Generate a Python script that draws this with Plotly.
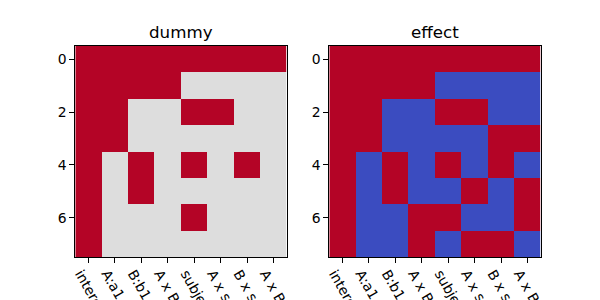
import plotly.graph_objects as go

labels = ["intercept", "A:a1", "B:b1", "A x B", "subject", "A x subject", "B x subject", "A x B x subject"]
rows = list(range(8))

dummy = [
    [1, 1, 1, 1, 1, 1, 1, 1],
    [1, 1, 1, 1, 0, 0, 0, 0],
    [1, 1, 0, 0, 1, 1, 0, 0],
    [1, 1, 0, 0, 0, 0, 0, 0],
    [1, 0, 1, 0, 1, 0, 1, 0],
    [1, 0, 1, 0, 0, 0, 0, 0],
    [1, 0, 0, 0, 1, 0, 0, 0],
    [1, 0, 0, 0, 0, 0, 0, 0],
]

effect = [
    [1, 1, 1, 1, 1, 1, 1, 1],
    [1, 1, 1, 1, -1, -1, -1, -1],
    [1, 1, -1, -1, 1, 1, -1, -1],
    [1, 1, -1, -1, -1, -1, 1, 1],
    [1, -1, 1, -1, 1, -1, 1, -1],
    [1, -1, 1, -1, -1, 1, -1, 1],
    [1, -1, -1, 1, 1, -1, -1, 1],
    [1, -1, -1, 1, -1, 1, 1, -1],
]

cscale = [[0, "#3b4cc0"], [0.5, "#dddddd"], [1, "#b40426"]]

fig = go.Figure()
cols = list(range(8))
fig.add_trace(go.Heatmap(z=dummy, x=cols, y=rows, colorscale=cscale, zmin=-1, zmax=1,
                         showscale=False, xaxis="x", yaxis="y", hoverinfo="skip"))
fig.add_trace(go.Heatmap(z=effect, x=cols, y=rows, colorscale=cscale, zmin=-1, zmax=1,
                         showscale=False, xaxis="x2", yaxis="y2", hoverinfo="skip"))

font = dict(family="DejaVu Sans", size=13.9, color="black")
axcommon = dict(showgrid=False, zeroline=False, showline=True, linecolor="black", linewidth=1,
                mirror=True, ticks="outside", ticklen=5, tickwidth=1, tickcolor="black",
                tickfont=font, automargin=False)
xextra = dict(ticklabelshift=-8, ticklabelstandoff=-3)
ydom = [1 - 257.3 / 300, 1 - 46 / 300]
fig.update_layout(
    width=600, height=300, margin=dict(l=0, r=0, t=0, b=0),
    paper_bgcolor="white", plot_bgcolor="white", showlegend=False,
    xaxis=dict(domain=[75.3 / 600, 286.7 / 600], range=[-0.5, 7.5], tickvals=cols, ticktext=labels,
               tickangle=60, anchor="y", **axcommon, **xextra),
    yaxis=dict(domain=ydom, range=[7.5, -0.5], tickvals=[0, 2, 4, 6], anchor="x", **axcommon),
    xaxis2=dict(domain=[329.3 / 600, 540.7 / 600], range=[-0.5, 7.5], tickvals=cols, ticktext=labels,
                tickangle=60, anchor="y2", **axcommon, **xextra),
    yaxis2=dict(domain=ydom, range=[7.5, -0.5], tickvals=[0, 2, 4, 6], anchor="x2", **axcommon),
    annotations=[
        dict(text="dummy", x=(75.3 + 286.7) / 2 / 600, y=1 - 32 / 300, xref="paper", yref="paper",
             showarrow=False, font=dict(family="DejaVu Sans", size=16.7, color="black"),
             xanchor="center", yanchor="middle"),
        dict(text="effect", x=(329.3 + 540.7) / 2 / 600, y=1 - 32 / 300, xref="paper", yref="paper",
             showarrow=False, font=dict(family="DejaVu Sans", size=16.7, color="black"),
             xanchor="center", yanchor="middle"),
    ],
)

fig.write_html("out.html")
